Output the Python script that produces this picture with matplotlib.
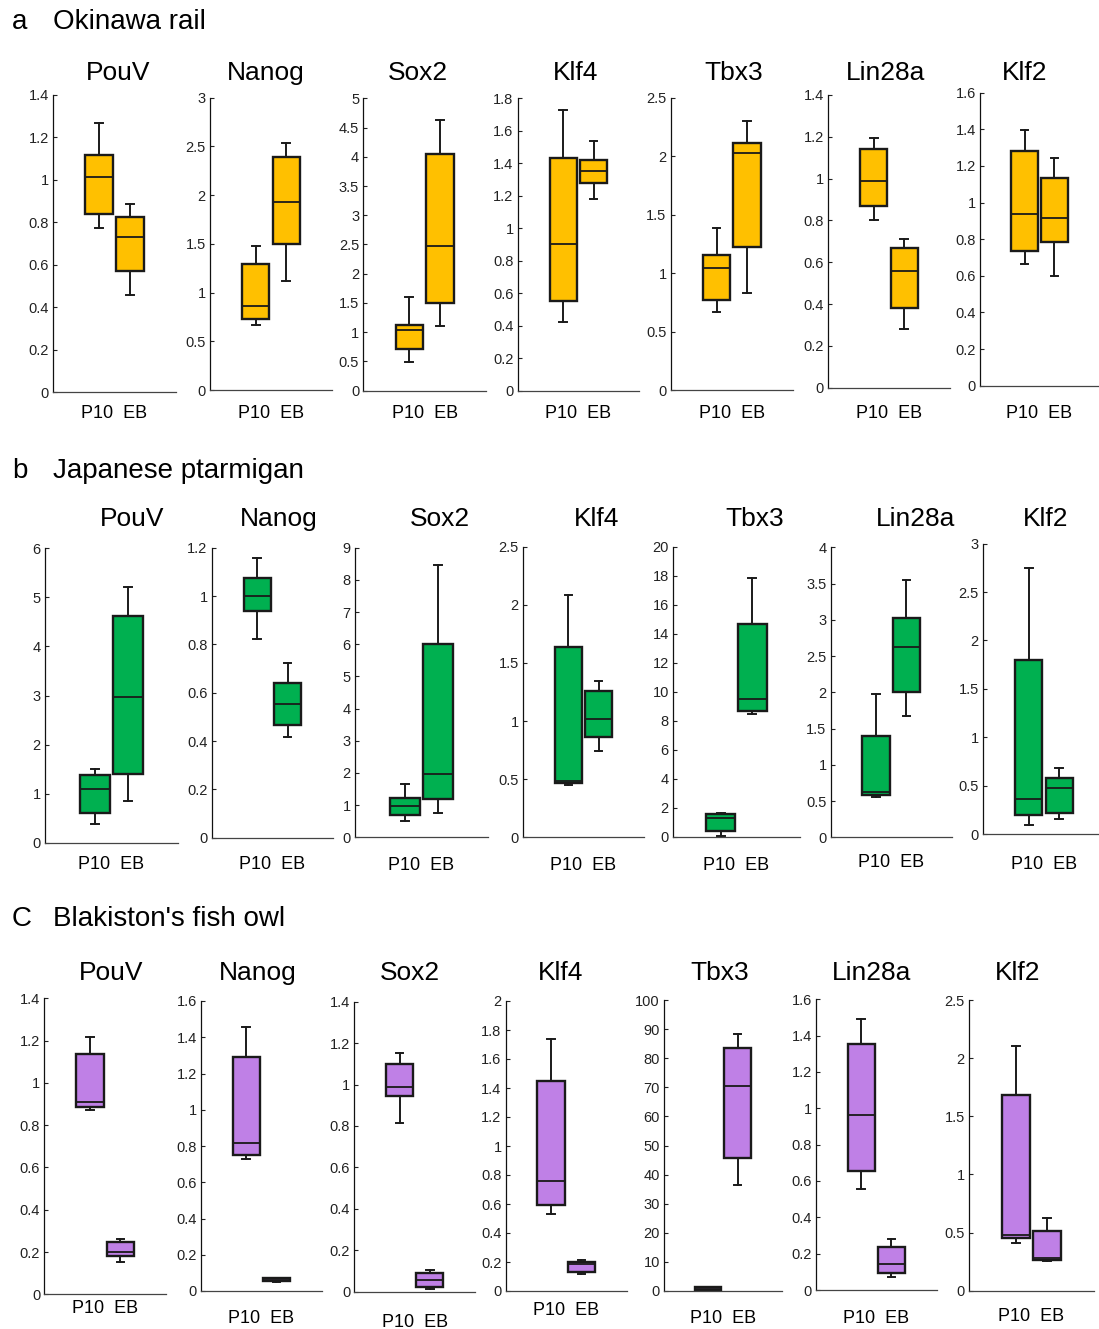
import matplotlib
matplotlib.use('Agg')
import matplotlib.pyplot as plt
import numpy as np

plt.rcParams['font.family'] = ['Liberation Sans', 'DejaVu Sans']

W, H = 1099, 1329

genes = ['PouV', 'Nanog', 'Sox2', 'Klf4', 'Tbx3', 'Lin28a', 'Klf2']
species = ['Okinawa rail', 'Japanese ptarmigan', "Blakiston's fish owl"]
letters = ['a', 'b', 'C']
groups = ['P10', 'EB']
colors = ['#FFC000', '#00B050', '#BF80E6']

# each box: (whisker low, q1, median, q3, whisker high)
rail_p10 = [(0.772, 0.840, 1.013, 1.118, 1.267), (0.664, 0.732, 0.866, 1.297, 1.478),
            (0.49, 0.707, 1.038, 1.117, 1.596), (0.425, 0.55, 0.901, 1.435, 1.728),
            (0.667, 0.77, 1.040, 1.152, 1.383), (0.802, 0.869, 0.99, 1.14, 1.196),
            (0.664, 0.735, 0.936, 1.281, 1.396)]
rail_eb = [(0.458, 0.571, 0.730, 0.827, 0.887), (1.115, 1.502, 1.926, 2.395, 2.538),
           (1.106, 1.494, 2.474, 4.04, 4.63), (1.178, 1.281, 1.355, 1.42, 1.537),
           (0.832, 1.22, 2.024, 2.11, 2.30), (0.279, 0.381, 0.56, 0.667, 0.711),
           (0.601, 0.786, 0.914, 1.132, 1.241)]
ptarmigan_p10 = [(0.374, 0.611, 1.087, 1.38, 1.495), (0.823, 0.938, 1.001, 1.076, 1.159),
                 (0.507, 0.694, 0.983, 1.211, 1.667), (0.45, 0.464, 0.485, 1.64, 2.087),
                 (0.07, 0.39, 1.26, 1.56, 1.655), (0.556, 0.579, 0.625, 1.393, 1.982),
                 (0.093, 0.193, 0.358, 1.80, 2.749)]
ptarmigan_eb = [(0.85, 1.40, 2.976, 4.63, 5.22), (0.417, 0.465, 0.552, 0.639, 0.721),
                (0.745, 1.2, 1.967, 6.004, 8.458), (0.745, 0.86, 1.018, 1.261, 1.347),
                (8.44, 8.69, 9.52, 14.67, 17.82), (1.669, 2.005, 2.63, 3.03, 3.545),
                (0.155, 0.214, 0.479, 0.582, 0.679)]
owl_p10 = [(0.870, 0.888, 0.91, 1.135, 1.216), (0.730, 0.752, 0.818, 1.293, 1.457),
           (0.816, 0.946, 0.987, 1.098, 1.151), (0.531, 0.591, 0.759, 1.451, 1.736),
           (0.34, 0.46, 0.92, 1.26, 1.49), (0.556, 0.657, 0.961, 1.354, 1.49),
           (0.407, 0.45, 0.479, 1.683, 2.107)]
owl_eb = [(0.153, 0.183, 0.199, 0.246, 0.26), (0.0515, 0.057, 0.0625, 0.070, 0.074),
          (0.013, 0.024, 0.056, 0.089, 0.105), (0.115, 0.133, 0.184, 0.202, 0.214),
          (36.3, 45.6, 70.4, 83.6, 88.3), (0.073, 0.092, 0.141, 0.239, 0.279),
          (0.258, 0.264, 0.278, 0.513, 0.628)]

# y axis: max and tick step per panel
rail_ymax = [1.4, 3, 5, 1.8, 2.5, 1.4, 1.6]
rail_step = [0.2, 0.5, 0.5, 0.2, 0.5, 0.2, 0.2]
ptarmigan_ymax = [6, 1.2, 9, 2.5, 20, 4, 3]
ptarmigan_step = [1, 0.2, 1, 0.5, 2, 0.5, 0.5]
owl_ymax = [1.4, 1.6, 1.4, 2, 100, 1.6, 2.5]
owl_step = [0.2, 0.2, 0.2, 0.2, 10, 0.2, 0.5]

rows = [(rail_p10, rail_eb, rail_ymax, rail_step),
        (ptarmigan_p10, ptarmigan_eb, ptarmigan_ymax, ptarmigan_step),
        (owl_p10, owl_eb, owl_ymax, owl_step)]

# layout in pixels: axes (left, right, top, bottom)
boxes_px = [
    [(53, 176, 95, 392), (210, 332, 97.7, 390), (363.3, 486, 98.3, 390.7), (517.7, 639, 98.3, 390.7),
     (670.7, 793, 97.7, 390), (828, 950, 95, 387.7), (980, 1099, 92.7, 385.7)],
    [(45, 178, 548.3, 842.7), (211.7, 333, 547.7, 837.7), (355, 488, 547.7, 837.3), (523, 644, 546.7, 837.3),
     (673, 800, 546.7, 836.7), (830.7, 951.7, 547.3, 837.3), (983, 1105, 543.7, 834)],
    [(44.3, 166, 998.3, 1294.3), (201, 321.7, 1001, 1291), (354.3, 475, 1001.7, 1291.7), (505.7, 626.7, 1001, 1291),
     (664, 781.7, 1000, 1291), (816, 936.7, 999.3, 1290), (969, 1094, 1000, 1290.7)],
]
title_x = [[118, 265.5, 418, 576, 734, 886, 1024.5],
           [132, 279, 439.5, 597, 755, 916, 1046],
           [111.5, 258, 410, 561, 720, 872, 1018]]
title_y = [80, 526, 980]
header_y = [29, 478, 925.7]
label_y = [[418] * 7,
           [869, 869, 870, 870, 870, 867, 869],
           [1313, 1323, 1327, 1315, 1323, 1323, 1321]]

fig = plt.figure(figsize=(W / 100, H / 100), dpi=100)


def fx(x):
    return x / W


def fy(y):
    return 1 - y / H


for r, (p10, eb, ymax, step) in enumerate(rows):
    fig.text(fx(12), fy(header_y[r]), letters[r], fontsize=20, va='baseline', ha='left')
    fig.text(fx(53), fy(header_y[r]), species[r], fontsize=20, va='baseline', ha='left')
    for g in range(len(genes)):
        L, R, T, B = boxes_px[r][g]
        ax = fig.add_axes([fx(L), fy(B), (R - L) / W, (B - T) / H])
        stats = []
        for vals, name in zip([p10[g], eb[g]], groups):
            lo, q1, med, q3, hi = vals
            stats.append(dict(whislo=lo, q1=q1, med=med, q3=q3, whishi=hi, fliers=[], label=name))
        ax.bxp(stats, positions=[1.5, 2.5], widths=0.9, capwidths=0.25,
               patch_artist=True, showfliers=False, manage_ticks=False,
               boxprops=dict(facecolor=colors[r], edgecolor='#1a1a1a', linewidth=1.7),
               medianprops=dict(color='#1a1a1a', linewidth=1.3),
               whiskerprops=dict(color='#1a1a1a', linewidth=1.4),
               capprops=dict(color='#1a1a1a', linewidth=1.4))
        ax.set_xlim(0, 4)
        ax.set_ylim(0, ymax[g])
        ticks = np.round(np.arange(0, ymax[g] + step[g] / 2, step[g]), 6)
        ax.set_yticks(ticks)
        ax.set_yticklabels(['%g' % t for t in ticks])
        ax.set_xticks([])
        ax.tick_params(axis='y', direction='in', length=3, width=0.8, labelsize=10.5,
                       pad=3, colors='#222222')
        for s in ['top', 'right']:
            ax.spines[s].set_visible(False)
        ax.spines['left'].set_linewidth(0.9)
        ax.spines['left'].set_color('#111111')
        ax.spines['bottom'].set_linewidth(0.9)
        ax.spines['bottom'].set_color('#444444')
        ax.patch.set_alpha(0)
        fig.text(fx(title_x[r][g]), fy(title_y[r]), genes[g], fontsize=19,
                 ha='center', va='baseline')
        fig.text(fx((L + R) / 2), fy(label_y[r][g]), '  '.join(groups), fontsize=13,
                 ha='center', va='baseline')

fig.savefig('out.png', dpi=100)
